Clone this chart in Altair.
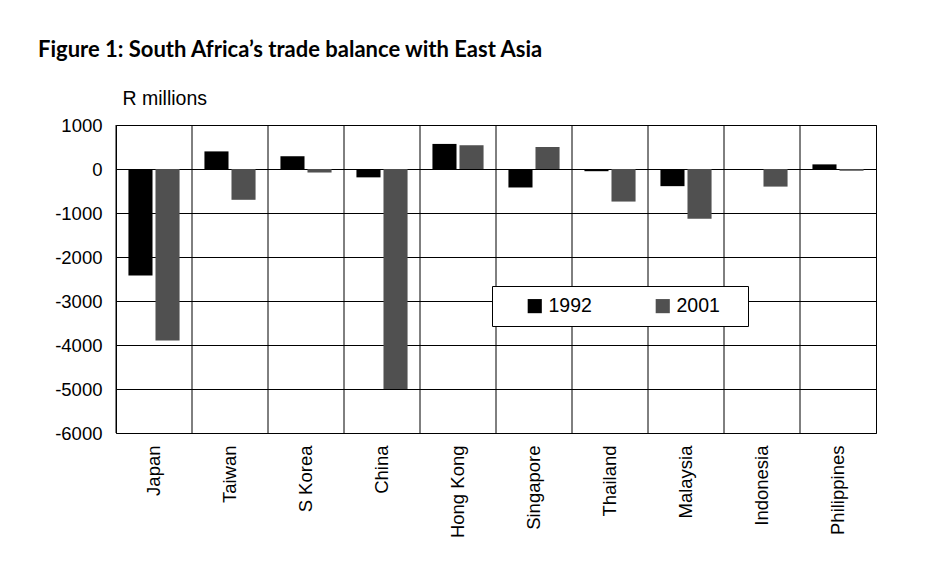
import altair as alt
import pandas as pd

countries = ["Japan", "Taiwan", "S Korea", "China", "Hong Kong",
             "Singapore", "Thailand", "Malaysia", "Indonesia", "Philippines"]
years = ["1992", "2001"]
v1992 = [-2420, 400, 290, -190, 570, -420, -50, -390, -10, 105]
v2001 = [-3900, -700, -80, -5000, 540, 500, -740, -1130, -400, -40]
y_ticks = [1000, 0, -1000, -2000, -3000, -4000, -5000, -6000]

rows = []
for c, a, b in zip(countries, v1992, v2001):
    rows.append({"country": c, "year": years[0], "value": a})
    rows.append({"country": c, "year": years[1], "value": b})
df = pd.DataFrame(rows)
cats = pd.DataFrame({"country": countries})

xscale = alt.Scale(domain=countries, paddingInner=0, paddingOuter=0)

bars = alt.Chart(df).mark_bar().encode(
    x=alt.X("country:N", scale=xscale, sort=countries,
            axis=alt.Axis(title=None, labelAngle=-90, labelAlign="right",
                          labelBaseline="middle", ticks=False, domain=False,
                          labelPadding=12, labelFont="Liberation Sans",
                          labelFontSize=18.5, labelColor="black", grid=False)),
    xOffset=alt.XOffset("year:N", scale=alt.Scale(domain=years, paddingInner=0.11, paddingOuter=0.46)),
    y=alt.Y("value:Q", scale=alt.Scale(domain=[-6000, 1000], nice=False),
            axis=alt.Axis(values=y_ticks, grid=True, gridColor="black", gridOpacity=1,
                          domain=False, ticks=False, labelExpr="datum.value + ''",
                          labelPadding=14, labelFont="Liberation Sans", labelFontSize=18.5,
                          labelColor="black", title="R millions", titleAngle=0,
                          titleAlign="left", titleBaseline="middle", titleX=6, titleY=-27,
                          titleFont="Liberation Sans", titleFontSize=19.5,
                          titleFontWeight="normal", titleColor="black")),
    color=alt.Color("year:N", scale=alt.Scale(domain=years, range=["#000000", "#505050"]),
                    legend=alt.Legend(title=" ", titleOrient="right", titlePadding=18,
                                      titleFontSize=12,
                                      orient="none", legendX=376, legendY=161,
                                      direction="horizontal", strokeColor="black",
                                      fillColor="white", padding=10, symbolType="square",
                                      symbolSize=200, symbolOpacity=1, symbolOffset=23,
                                      symbolStrokeWidth=0,
                                      labelFont="Liberation Sans", labelFontSize=19.5,
                                      labelColor="black", columnPadding=38)),
)

rules = alt.Chart(cats).mark_rule(color="black", strokeWidth=1).encode(
    x=alt.X("country:N", scale=xscale, sort=countries, bandPosition=0)
)

chart = alt.layer(rules, bars).properties(
    width=760, height=308,
    padding={"left": 108, "top": 117, "right": 63, "bottom": 124},
    autosize=alt.AutoSizeParams(type="none"),
    title=alt.TitleParams("Figure 1: South Africa’s trade balance with East Asia",
                          anchor="start", frame="group", dx=-78, dy=-22,
                          font="Lato", fontSize=22, fontWeight="bold", color="black"),
    background="white",
).configure_view(stroke="black", strokeWidth=1)

chart.save("out.html", embed_options={"renderer": "svg", "actions": False})
